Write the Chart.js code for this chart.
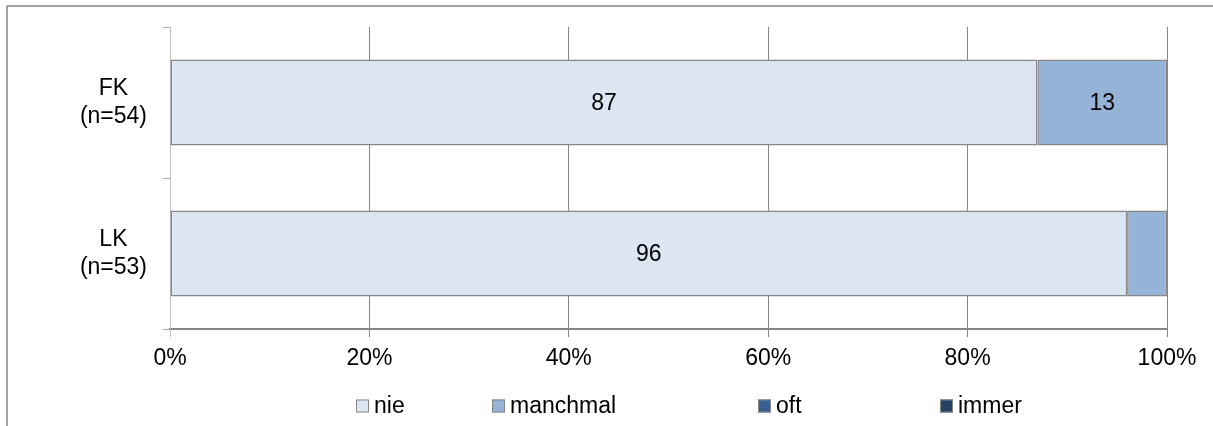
<!DOCTYPE html>
<html>
<head>
<meta charset="utf-8">
<script src="https://cdn.jsdelivr.net/npm/chart.js@4"></script>
<style>
  html, body { margin: 0; padding: 0; background: #fff; }
  #wrap { position: relative; width: 1213px; height: 426px; }
</style>
</head>
<body>
<div id="wrap"><canvas id="chart" width="1213" height="426"></canvas></div>
<script>
// Kategorien (Gruppen) und Werte in Prozent
const groups = [['FK', '(n=54)'], ['LK', '(n=53)']];
const seriesNames = ['nie', 'manchmal', 'oft', 'immer'];
const nie = [87, 96];
const manchmal = [13, 4];
const oft = [0, 0];
const immer = [0, 0];
const xTicks = [0, 20, 40, 60, 80, 100];

const colors = ['#DCE6F2', '#95B3D7', '#376092', '#244062'];
const edge = '#868686';
const font = { family: 'Arial, "Liberation Sans", sans-serif', size: 23 };

// Rahmen um das ganze Diagramm
const framePlugin = {
    id: 'frame',
    beforeDraw(chart) {
        const ctx = chart.ctx;
        ctx.save();
        ctx.strokeStyle = edge;
        ctx.lineWidth = 1.5;
        ctx.strokeRect(7, 6, 1400, 600);
        ctx.restore();
    }
};

// Werte in den Balken (kleine Werte werden nicht beschriftet)
const valueLabels = {
    id: 'valueLabels',
    afterDatasetsDraw(chart) {
        const ctx = chart.ctx;
        ctx.save();
        ctx.font = font.size + 'px ' + font.family;
        ctx.fillStyle = '#000';
        ctx.textAlign = 'center';
        ctx.textBaseline = 'middle';
        chart.data.datasets.forEach((ds, i) => {
            chart.getDatasetMeta(i).data.forEach((bar, j) => {
                const v = ds.data[j];
                if (v < 5) return;
                const cx = (bar.x + bar.base) / 2;
                ctx.fillText(String(v), cx, bar.y + 1);
            });
        });
        ctx.restore();
    }
};

// Legende unten, Positionen wie im Original
const legendBox = {
    id: 'legendBox',
    afterDraw(chart, args, opts) {
        const ctx = chart.ctx;
        ctx.save();
        ctx.font = font.size + 'px ' + font.family;
        ctx.textBaseline = 'middle';
        ctx.textAlign = 'left';
        chart.data.datasets.forEach((ds, i) => {
            const x = opts.xs[i];
            const y = opts.y;
            ctx.fillStyle = ds.backgroundColor;
            ctx.fillRect(x, y - 6.5, 13, 13);
            ctx.strokeStyle = edge;
            ctx.lineWidth = 1;
            ctx.strokeRect(x + 0.5, y - 6, 12, 12);
            ctx.fillStyle = '#000';
            ctx.fillText(ds.label, x + 18, y + 1);
        });
        ctx.restore();
    }
};

const ctx = document.getElementById('chart').getContext('2d');
const chart = new Chart(ctx, {
    type: 'bar',
    data: {
        labels: groups,
        datasets: [nie, manchmal, oft, immer].map((d, i) => ({
            label: seriesNames[i],
            data: d,
            backgroundColor: colors[i],
            borderColor: edge,
            borderWidth: c => (c.raw > 0 ? 1.5 : 0),
            borderSkipped: false,
            categoryPercentage: 1,
            barPercentage: 0.57
        }))
    },
    options: {
        indexAxis: 'y',
        responsive: false,
        animation: false,
        layout: { padding: { left: 0, right: 46, top: 27, bottom: 0 } },
        scales: {
            x: {
                stacked: true,
                min: 0,
                max: 100,
                afterBuildTicks: s => { s.ticks = xTicks.map(v => ({ value: v })); },
                afterFit: s => { s.height = 97; },
                border: { color: edge, width: 2 },
                grid: {
                    color: c => (c.index === 0 ? '#BFBFBF' : edge),
                    lineWidth: 1,
                    tickLength: 8
                },
                ticks: {
                    color: '#000',
                    font: font,
                    padding: 8,
                    maxRotation: 0,
                    callback: v => v + '%'
                }
            },
            y: {
                stacked: true,
                afterFit: s => {
                    s.width = 170;
                    s.paddingTop = 0;
                    s.paddingBottom = 0;
                },
                border: { color: '#BFBFBF', width: 1 },
                grid: {
                    drawOnChartArea: false,
                    color: '#A6A6A6',
                    tickLength: 7
                },
                ticks: {
                    color: '#000',
                    font: Object.assign({ lineHeight: 1.2 }, font),
                    crossAlign: 'center',
                    padding: 16
                }
            }
        },
        plugins: {
            legend: { display: false },
            tooltip: { enabled: false },
            legendBox: { xs: [356, 492, 758, 940], y: 406 }
        }
    },
    plugins: [framePlugin, valueLabels, legendBox]
});
</script>
</body>
</html>
